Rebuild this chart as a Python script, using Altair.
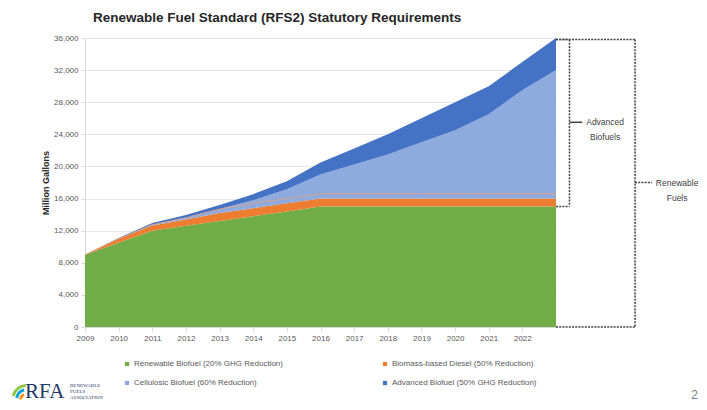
import altair as alt
import pandas as pd

# x positions (as drawn) and tick labels
positions = [2009, 2010, 2011, 2012, 2013, 2014, 2015, 2016, 2017, 2018, 2019, 2020, 2021, 2022, 2023]
tick_years = [2009, 2010, 2011, 2012, 2013, 2014, 2015, 2016, 2017, 2018, 2019, 2020, 2021, 2022]
y_ticks = [0, 4000, 8000, 12000, 16000, 20000, 24000, 28000, 32000, 36000]

# million gallons
renewable = [9000, 10500, 12000, 12600, 13200, 13800, 14400, 15000, 15000, 15000, 15000, 15000, 15000, 15000, 15000]
biomass_diesel = [0, 500, 650, 800, 1000, 1000, 1000, 1000, 1000, 1000, 1000, 1000, 1000, 1000, 1000]
cellulosic = [0, 0, 100, 250, 500, 1000, 1750, 3000, 4250, 5500, 7000, 8500, 10500, 13500, 16000]
advanced = [0, 100, 200, 300, 500, 750, 1000, 1500, 2000, 2500, 3000, 3500, 3500, 3500, 4000]
thin_line = [9000, 11000, 12750, 13600, 14700, 15400, 16000, 16600, 16600, 16600, 16600, 16600, 16600, 16600, 16600]

series_names = [
    "Renewable Biofuel (20% GHG Reduction)",
    "Biomass-based Diesel (50% Reduction)",
    "Cellulosic Biofuel (60% Reduction)",
    "Advanced Biofuel (50% GHG Reduction)",
]
series_colors = ["#70AD47", "#ED7D31", "#8FAADC", "#4472C4"]

rows = []
for k, vals in enumerate([renewable, biomass_diesel, cellulosic, advanced]):
    for p, v in zip(positions, vals):
        rows.append({"pos": p, "series": series_names[k], "value": v, "ord": k})
df = pd.DataFrame(rows)

font = "Liberation Sans"

xs = alt.Scale(domain=[2009, 2023], nice=False, zero=False)
ys = alt.Scale(domain=[0, 36000], nice=False)

x_axis = alt.Axis(values=tick_years, format="d", title=None, grid=False,
                  labelFontSize=8, labelColor="#595959", tickSize=4,
                  tickColor="#D9D9D9", domainColor="#D9D9D9", labelPadding=3,
                  labelFont=font, labelOverlap=False, labelFlush=False)
y_axis = alt.Axis(values=y_ticks, format=",d",
                  title="Million Gallons", titleFontSize=9, titleFontWeight="bold",
                  titleColor="#262626", titlePadding=3, titleFont=font,
                  labelFontSize=8, labelColor="#595959", labelFont=font,
                  tickSize=4, tickColor="#D9D9D9", domainColor="#D9D9D9",
                  gridColor="#E6E6E6", labelPadding=3, labelOverlap=False,
                  labelFlush=False)

areas = alt.Chart(df).mark_area(interpolate="linear").encode(
    x=alt.X("pos:Q", scale=xs, axis=x_axis),
    y=alt.Y("value:Q", stack="zero", scale=ys, axis=y_axis),
    color=alt.Color("series:N",
                    scale=alt.Scale(domain=series_names, range=series_colors),
                    sort=series_names,
                    legend=alt.Legend(title=None, orient="none", legendX=38, legendY=322,
                                      columns=2, direction="horizontal",
                                      symbolType="square", symbolSize=18, labelOffset=3,
                                      labelFontSize=8, labelColor="#595959", labelFont=font,
                                      columnPadding=98, rowPadding=11, labelLimit=300,
                                      symbolStrokeWidth=0)),
    order=alt.Order("ord:Q", sort="ascending"),
)

line_df = pd.DataFrame({"pos": positions, "value": thin_line})
thin = alt.Chart(line_df).mark_line(color="#F4A070", strokeWidth=1, strokeDash=[2, 1]).encode(
    x=alt.X("pos:Q", scale=xs, axis=x_axis), y=alt.Y("value:Q", scale=ys, axis=y_axis))

# bracket annotations (data coordinates)
br_x = [2023.0, 2023.4, 2023.0, 2023.4, 2023.0, 2025.35, 2023.0, 2025.35]
br_x2 = [2023.4, 2023.4, 2023.4, 2023.78, 2025.35, 2025.35, 2025.35, 2025.85]
br_y = [35800, 35800, 15000, 25500, 35800, 35800, 0, 18000]
br_y2 = [35800, 15000, 15000, 25500, 35800, 0, 0, 18000]
br_dash = ["d", "d", "d", "s", "d", "d", "d", "d"]
br_df = pd.DataFrame({"pos": br_x, "x2": br_x2, "value": br_y, "y2": br_y2, "dash": br_dash})

brackets = alt.Chart(br_df).transform_filter(alt.datum.dash == "d").mark_rule(
    color="#404040", strokeWidth=1.5, strokeDash=[2, 1.2]).encode(
    x=alt.X("pos:Q", scale=xs, axis=x_axis), x2="x2:Q",
    y=alt.Y("value:Q", scale=ys, axis=y_axis), y2="y2:Q")
solid_tick = alt.Chart(br_df).transform_filter(alt.datum.dash == "s").mark_rule(
    color="#404040", strokeWidth=1.5).encode(
    x=alt.X("pos:Q", scale=xs, axis=x_axis), x2="x2:Q",
    y=alt.Y("value:Q", scale=ys, axis=y_axis), y2="y2:Q")

lab_df = pd.DataFrame({"pos": [2024.46, 2026.6], "value": [25500, 18000],
                       "t": [["Advanced", "Biofuels"], ["Renewable", "Fuels"]]})
labels = alt.Chart(lab_df).mark_text(fontSize=8.5, color="#404040", font=font,
                                     align="center", baseline="middle", lineHeight=15).encode(
    x=alt.X("pos:Q", scale=xs, axis=x_axis), y=alt.Y("value:Q", scale=ys, axis=y_axis), text="t")

# logo and page number
deco_df = pd.DataFrame({"a": [1]})
rfa = alt.Chart(deco_df).mark_text(text="RFA", font="Liberation Serif", fontSize=21,
                                   color="#1F3864", align="left", baseline="alphabetic").encode(
    x=alt.value(-60), y=alt.value(360))
assoc = alt.Chart(deco_df).mark_text(text=["RENEWABLE", "FUELS", "ASSOCIATION"],
                                     font="Liberation Serif", fontSize=5, lineHeight=6,
                                     color="#1F3864", align="left", baseline="top").encode(
    x=alt.value(-15), y=alt.value(345))
leaf1 = alt.Chart(deco_df).mark_arc(theta=5.0, theta2=6.2, radius=16, radius2=13,
                                    color="#8CC63F").encode(x=alt.value(-58), y=alt.value(362))
leaf2 = alt.Chart(deco_df).mark_arc(theta=4.9, theta2=6.0, radius=12, radius2=9,
                                    color="#00A3D9").encode(x=alt.value(-58), y=alt.value(362))
leaf3 = alt.Chart(deco_df).mark_arc(theta=4.8, theta2=5.8, radius=8, radius2=5,
                                    color="#F7941D").encode(x=alt.value(-58), y=alt.value(362))
page = alt.Chart(deco_df).mark_text(text="2", font="Liberation Sans", fontSize=12,
                                    color="#7F7F7F", align="right", baseline="middle").encode(
    x=alt.value(613), y=alt.value(357))

chart = alt.layer(areas, thin, brackets, solid_tick, labels, rfa, assoc, leaf1, leaf2, leaf3, page).properties(
    width=471, height=289,
    autosize=alt.AutoSizeParams(type="none"),
    padding={"left": 77, "top": 30, "right": 143, "bottom": 75},
    title=alt.Title("Renewable Fuel Standard (RFS2) Statutory Requirements",
                    anchor="start", frame="group", dx=8, offset=10, fontSize=13.5,
                    fontWeight="bold", color="#262626", font=font),
).configure_view(stroke=None)

chart.save("out.html", embed_options={"renderer": "svg", "actions": False})
